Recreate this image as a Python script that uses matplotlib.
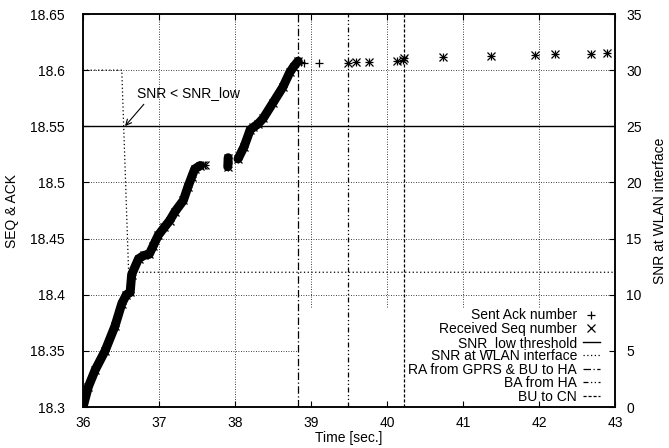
import matplotlib
matplotlib.use("Agg")
import matplotlib.pyplot as plt
from matplotlib.patches import Rectangle

plt.rcParams['font.family'] = ['Liberation Sans', 'DejaVu Sans']
plt.rcParams['font.size'] = 10

# dense part of the trace (ack and seq overlap here)
seg1_t = [36.00, 36.07, 36.16, 36.29, 36.42, 36.51, 36.57, 36.62, 36.64, 36.73,
          36.80, 36.87, 36.92, 36.99, 37.07, 37.14, 37.21, 37.32, 37.38, 37.43,
          37.47, 37.54]
seg1_seq = [18.300, 18.318, 18.333, 18.350, 18.372, 18.392, 18.400, 18.402, 18.418, 18.432,
            18.435, 18.436, 18.443, 18.453, 18.460, 18.466, 18.474, 18.484, 18.496, 18.505,
            18.512, 18.515]
seg2_t = [37.905, 37.910]
seg2_seq = [18.514, 18.522]
seg3_t = [38.04, 38.12, 38.20, 38.24, 38.30, 38.37, 38.50, 38.63, 38.72, 38.77, 38.83]
seg3_seq = [18.521, 18.532, 18.547, 18.549, 18.552, 18.557, 18.571, 18.585, 18.598, 18.603, 18.608]

# sparse samples after the handover
ack_extra_t = [37.58, 37.61, 38.87, 38.91, 39.11]
ack_extra_seq = [18.5155, 18.5155, 18.607, 18.606, 18.606]
both_t = [39.49, 39.59, 39.76, 40.13, 40.21, 40.22, 40.74, 41.37, 41.95, 42.21, 42.68, 42.89]
both_seq = [18.606, 18.607, 18.6075, 18.608, 18.609, 18.6105, 18.612, 18.6126, 18.6132,
            18.614, 18.6146, 18.6153]
recv_extra_t = [37.58, 37.61]
recv_extra_seq = [18.5155, 18.5155]

# SNR at the WLAN interface (right axis)
snr_t = [36.0, 36.51, 36.60, 43.0]
snr_val = [30, 30, 12, 12]
snr_low = 25

# signalling events
t_ra = 38.83
t_ba = 39.49
t_bu = 40.22

yticks = [18.3, 18.35, 18.4, 18.45, 18.5, 18.55, 18.6, 18.65]
ylabels = ["18.3", "18.35", "18.4", "18.45", "18.5", "18.55", "18.6", "18.65"]
xticks = [36, 37, 38, 39, 40, 41, 42, 43]
y2ticks = [0, 5, 10, 15, 20, 25, 30, 35]

fig = plt.figure(figsize=(6.69, 4.48), dpi=100)
ax = fig.add_axes([0.1241, 0.0915, 0.7952, 0.8772])
ax.set_xlim(36, 43)
ax.set_ylim(18.3, 18.65)
ax2 = ax.twinx()
ax2.set_ylim(0, 35)

# grid by hand so the key area can be blanked over it
grid_kw = dict(color='black', lw=0.6, ls=(0, (1, 2)), zorder=0.8)
for x in xticks[1:-1]:
    ax.axvline(x, **grid_kw)
for y in yticks[1:-1]:
    ax.axhline(y, **grid_kw)
ax.add_patch(Rectangle((38.83, 18.3), 43 - 38.83, 0.0873, facecolor='white',
                       edgecolor='none', zorder=1))

band_kw = dict(color='black', lw=6.5, solid_capstyle='round', zorder=3)
ax.plot(seg1_t, seg1_seq, **band_kw)
ax.plot(seg2_t, seg2_seq, **band_kw)
ax.plot(seg3_t, seg3_seq, **band_kw)

mk = dict(ls='none', color='black', ms=5.5, mew=0.9, zorder=4)
ack_t = seg1_t + seg2_t + seg3_t + ack_extra_t + both_t
ack_seq = seg1_seq + seg2_seq + seg3_seq + ack_extra_seq + both_seq
recv_t = seg1_t + seg2_t + seg3_t + recv_extra_t + both_t
recv_seq = seg1_seq + seg2_seq + seg3_seq + recv_extra_seq + both_seq
h_ack, = ax.plot(ack_t, ack_seq, marker='+', label='Sent Ack number', **mk)
h_recv, = ax.plot(recv_t, recv_seq, marker='x', label='Received Seq number', **mk)

h_thr = ax2.axhline(snr_low, color='black', lw=1.0, label='SNR_low threshold')
h_snr, = ax2.plot(snr_t, snr_val, color='black', lw=0.9, ls=(0, (1, 2)),
                  label='SNR at WLAN interface')
h_ra = ax.axvline(t_ra, color='black', lw=0.9, ls=(0, (6, 2, 1, 2)), zorder=2,
                  label='RA from GPRS & BU to HA')
h_ba = ax.axvline(t_ba, color='black', lw=0.9, ls=(0, (4, 2, 1, 2, 1, 2)), zorder=2,
                  label='BA from HA')
h_bu = ax.axvline(t_bu, color='black', lw=0.9, ls=(0, (2.5, 1.5)), zorder=2,
                  label='BU to CN')

ax.annotate('', xy=(36.553, 18.5502), xytext=(36.80, 18.5696),
            arrowprops=dict(arrowstyle='->', lw=0.8, color='black', shrinkA=0, shrinkB=0))
ax.text(36.706, 18.5794, 'SNR < SNR_low', ha='left', va='center', fontsize=10)

ax.set_xticks(xticks)
ax.set_yticks(yticks)
ax.set_yticklabels(ylabels)
ax2.set_yticks(y2ticks)
ax.tick_params(axis='x', direction='in', length=4, pad=6.5, top=True)
ax.tick_params(axis='y', direction='in', length=4, pad=13)
ax2.tick_params(axis='y', direction='in', length=4, pad=8)
for a in (ax, ax2):
    for s in a.spines.values():
        s.set_linewidth(1.1)

ax.set_xlabel('Time [sec.]')
ax.xaxis.set_label_coords(0.5, -0.061)
ax.set_ylabel('SEQ & ACK')
ax.yaxis.set_label_coords(-0.120, 0.5)
ax2.set_ylabel('SNR at WLAN interface')
ax2.yaxis.set_label_coords(1.071, 0.5)

handles = [h_ack, h_recv, h_thr, h_snr, h_ra, h_ba, h_bu]
ax2.legend(handles=handles, loc='lower right', bbox_to_anchor=(0.972, 0.008),
           frameon=False, markerfirst=False, borderpad=0, borderaxespad=0,
           handlelength=1.25, handletextpad=0.4, labelspacing=-0.03, fontsize=10)

fig.savefig('out.png', dpi=100)
